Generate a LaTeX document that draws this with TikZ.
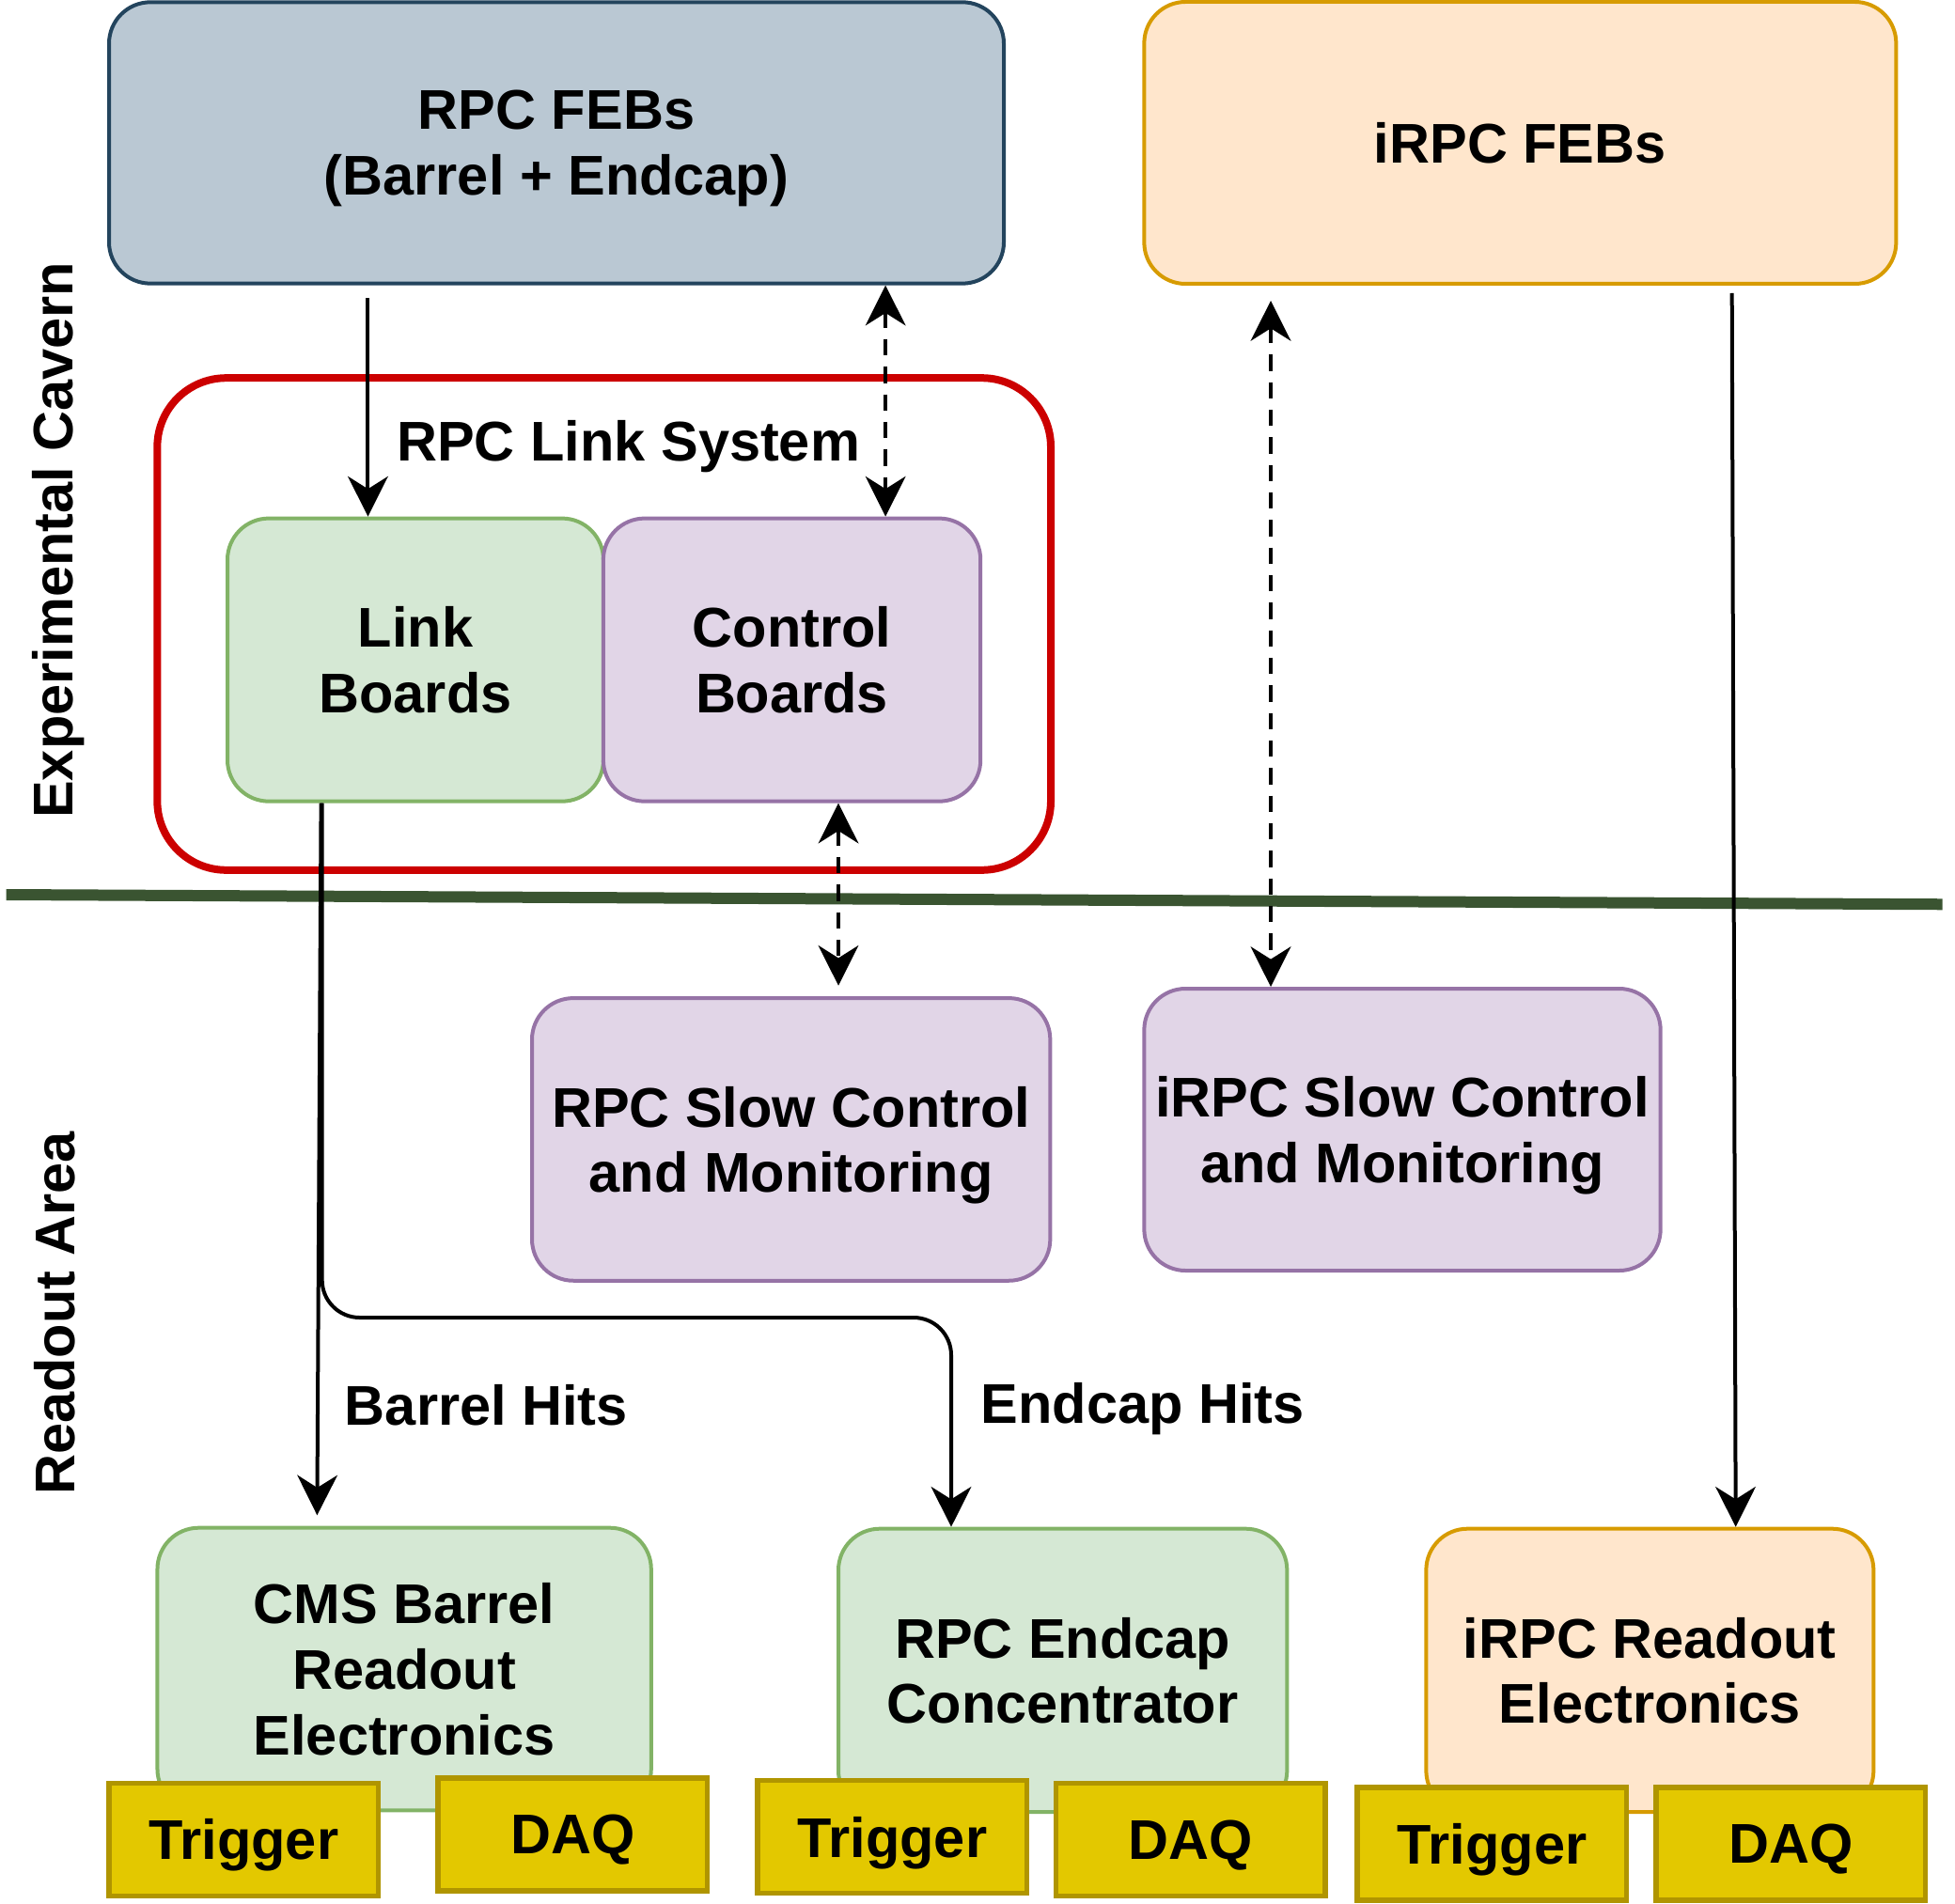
\documentclass[tikz,border=0pt]{standalone}
\usepackage{fontspec}
\setmainfont{Liberation Sans}
\usetikzlibrary{arrows.meta}
\definecolor{febfill}{HTML}{BAC8D3}
\definecolor{febdraw}{HTML}{23445D}
\definecolor{orafill}{HTML}{FFE6CC}
\definecolor{oradraw}{HTML}{D79B00}
\definecolor{grnfill}{HTML}{D5E8D4}
\definecolor{grndraw}{HTML}{82B366}
\definecolor{purfill}{HTML}{E1D5E7}
\definecolor{purdraw}{HTML}{9673A6}
\definecolor{ylwfill}{HTML}{E3C800}
\definecolor{ylwdraw}{HTML}{B09500}
\definecolor{sysred}{HTML}{CC0000}
\definecolor{wallgreen}{HTML}{3A5431}
\begin{document}
\begin{tikzpicture}[>={Stealth[length=0.32cm,width=0.32cm,inset=0.1cm]}, font=\fontsize{12.7}{14.9}\selectfont\bfseries] % схема
\tikzstyle{blk} = [draw, rounded corners=0.33cm, line width=0.03cm, align=center, inner sep=0pt, text depth=0pt, minimum height=2.25cm] % base box style
\tikzstyle{feb} = [blk, fill=febfill, draw=febdraw] % RPC FEB box
\tikzstyle{ora} = [blk, fill=orafill, draw=oradraw] % iRPC boxes
\tikzstyle{grn} = [blk, fill=grnfill, draw=grndraw] % data boxes
\tikzstyle{pur} = [blk, fill=purfill, draw=purdraw] % control boxes
\tikzstyle{ylw} = [draw=ylwdraw, fill=ylwfill, line width=0.04cm, minimum width=2.15cm, minimum height=0.9cm, inner sep=0pt, text depth=0pt] % Trigger / DAQ
\tikzstyle{arr} = [->, line width=0.03cm] % data link
\tikzstyle{darr} = [<->, line width=0.03cm, dash pattern=on 0.13cm off 0.09cm] % control link

\useasboundingbox (0,0) rectangle (15.6,-15.1875);

% экспериментальная зона
\node[feb, minimum width=7.14cm, minimum height=2.245cm] (rfeb) at (4.44,-1.14) {RPC FEBs\\(Barrel + Endcap)};
\node[ora, minimum width=6.0cm] (ifeb) at (12.13,-1.14) {iRPC FEBs};
\node[draw=sysred, line width=0.06cm, rounded corners=0.55cm, minimum width=7.13cm, minimum height=3.927cm, inner sep=0pt] (lsys) at (4.82,-4.98) {};
\node[anchor=base, inner sep=0pt] (lsyst) at (5.015,-3.675) {RPC Link System};
\node[grn, minimum width=3.0cm, minimum height=2.258cm] (lb) at (3.315,-5.266) {Link\\Boards};
\node[pur, minimum width=3.01cm, minimum height=2.258cm] (cb) at (6.319,-5.266) {Control\\Boards};

\draw[line width=0.09cm, wallgreen] (0.05,-7.14) -- (15.5,-7.217); % стена
\node[rotate=90, inner sep=0pt] (cav) at (0.463,-4.31) {Experimental Cavern};
\node[rotate=90, inner sep=0pt] (roa) at (0.44,-10.48) {Readout Area};

% зона считывания
\node[pur, minimum width=4.135cm, minimum height=2.255cm] (sc) at (6.3125,-9.093) {RPC Slow Control\\and Monitoring};
\node[pur, minimum width=4.12cm] (isc) at (11.19,-9.015) {iRPC Slow Control\\and Monitoring};
\node[grn, minimum width=3.94cm, minimum height=2.255cm] (brl) at (3.226,-13.32) {CMS Barrel\\Readout\\Electronics};
\node[grn, minimum width=3.58cm, minimum height=2.26cm] (ecap) at (8.48,-13.33) {RPC Endcap\\Concentrator};
\node[ora, minimum width=3.57cm, minimum height=2.26cm] (iro) at (13.165,-13.33) {iRPC Readout\\Electronics};

\node[ylw] (trg1) at (1.945,-14.68) {Trigger};
\node[ylw] (daq1) at (4.57,-14.64) {DAQ};
\node[ylw] (trg2) at (7.12,-14.66) {Trigger};
\node[ylw] (daq2) at (9.5,-14.68) {DAQ};
\node[ylw] (trg3) at (11.905,-14.715) {Trigger};
\node[ylw] (daq3) at (14.29,-14.715) {DAQ};

\node[anchor=base west, inner sep=0pt] (bhit) at (2.745,-11.37) {Barrel Hits};
\node[anchor=base west, inner sep=0pt] (ehit) at (7.82,-11.36) {Endcap Hits};

% связи
\coordinate (f1) at (2.936,-2.38);
\coordinate (f2) at (13.82,-2.34);
\coordinate (hb) at (7.59,-10.515);
\draw[arr] (f1) -- (f1 |- lb.north);
\draw[darr] (rfeb.south -| 7.066,0) -- (cb.north -| 7.066,0);
\draw[darr, shorten >=0.085cm] (cb.south -| 6.69,0) -- (sc.north -| 6.69,0);
\draw[darr, shorten <=0.12cm] (ifeb.south -| 10.14,0) -- (isc.north -| 10.14,0);
\draw[arr] (f2) -- (iro.north -| 13.85,0);
\draw[arr, shorten >=0.085cm] (lb.south -| 2.562,0) -- (brl.north -| 2.53,0);
\draw[arr, rounded corners=0.3cm] (lb.south -| 2.57,0) |- (hb) -- (hb |- ecap.north);
\end{tikzpicture}
\end{document}
